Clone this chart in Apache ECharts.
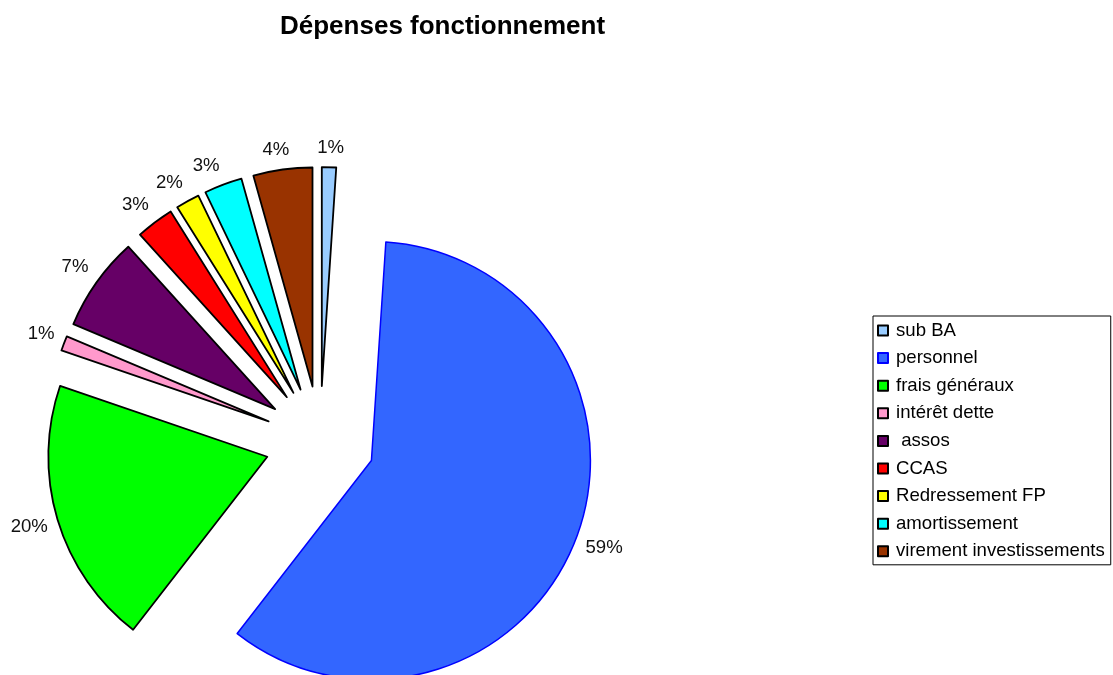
<!DOCTYPE html>
<html>
<head>
<meta charset="utf-8">
<script src="https://cdn.jsdelivr.net/npm/echarts@6/dist/echarts.min.js"></script>
<style>
  html, body { margin: 0; padding: 0; background: #fff; }
  #chart { width: 1113px; height: 675px; }
</style>
</head>
<body>
<div id="chart"></div>
<script>
// Postes de dépenses de fonctionnement (part du total, en %)
const categories = ['sub BA', 'personnel', 'frais généraux', 'intérêt dette', ' assos', 'CCAS', 'Redressement FP', 'amortissement', 'virement investissements'];
const values = [1.05, 59.45, 19.75, 1.1, 6.95, 2.8, 1.75, 2.8, 4.35];
const colors = ['#99CCFF', '#3366FF', '#00FF00', '#FF99CC', '#660066', '#FF0000', '#FFFF00', '#00FFFF', '#993300'];
const borders = ['#000000', '#0000FF', '#000000', '#000000', '#000000', '#000000', '#000000', '#000000', '#000000'];

const font = '"Liberation Sans", Arial, sans-serif';

// Direction (screen x/y) of the middle of each slice, clockwise from 12 o'clock
const total = values.reduce((a, b) => a + b, 0);
const midDirs = [];
values.reduce((cum, v) => {
  const a = 2 * Math.PI * (cum + v / 2) / total;
  midDirs.push([Math.sin(a), -Math.cos(a)]);
  return cum + v;
}, 0);

// Outside labels: the library anchors them beside the rim, text running outward;
// nudge each one so its box sits against the rim like a corner-aligned callout.
function placeLabel(params) {
  const d = midDirs[params.dataIndex];
  const w = params.labelRect.width, h = params.labelRect.height;
  const fx = Math.min(1, 3 * Math.abs(d[0]));
  const fy = Math.min(1, 1.7 * Math.abs(d[1]));
  return {
    dx: Math.sign(d[0]) * (w / 2) * (fx - 1),
    dy: Math.sign(d[1]) * (h / 2) * fy
  };
}

const pieData = categories.map((name, i) => ({
  name: name,
  value: values[i],
  selected: true,
  itemStyle: {
    color: colors[i],
    borderColor: borders[i],
    borderWidth: borders[i] === '#000000' ? 1.8 : 1.5
  }
}));

const chart = echarts.init(document.getElementById('chart'), null, { renderer: 'canvas' });
chart.setOption({
  backgroundColor: '#ffffff',
  animation: false,
  title: {
    text: 'Dépenses fonctionnement',
    left: 275,
    top: 9,
    textStyle: { fontFamily: font, fontSize: 26, fontWeight: 'bold', color: '#000' }
  },
  legend: {
    orient: 'vertical',
    left: 873,
    top: 316,
    padding: [5, 6, 4, 4],
    itemGap: 8.6,
    itemWidth: 10,
    itemHeight: 10,
    icon: 'rect',
    selectedMode: false,
    backgroundColor: '#ffffff',
    borderColor: '#000000',
    borderWidth: 1,
    textStyle: { fontFamily: font, fontSize: 18.6, color: '#000', padding: [0, 0, 0, 3] },
    data: categories
  },
  series: [{
    type: 'pie',
    center: [320, 441],
    radius: 219,
    startAngle: 90,
    clockwise: true,
    selectedMode: 'multiple',
    selectedOffset: 55,
    avoidLabelOverlap: false,
    emphasis: { disabled: true },
    percentPrecision: 0,
    label: {
      show: true,
      position: 'outside',
      formatter: '{d}%',
      distanceToLabelLine: 0,
      fontFamily: font,
      fontSize: 18.6,
      color: '#111'
    },
    labelLine: { show: false, length: 10, length2: 0 },
    labelLayout: placeLabel,
    data: pieData
  }]
});
</script>
</body>
</html>
